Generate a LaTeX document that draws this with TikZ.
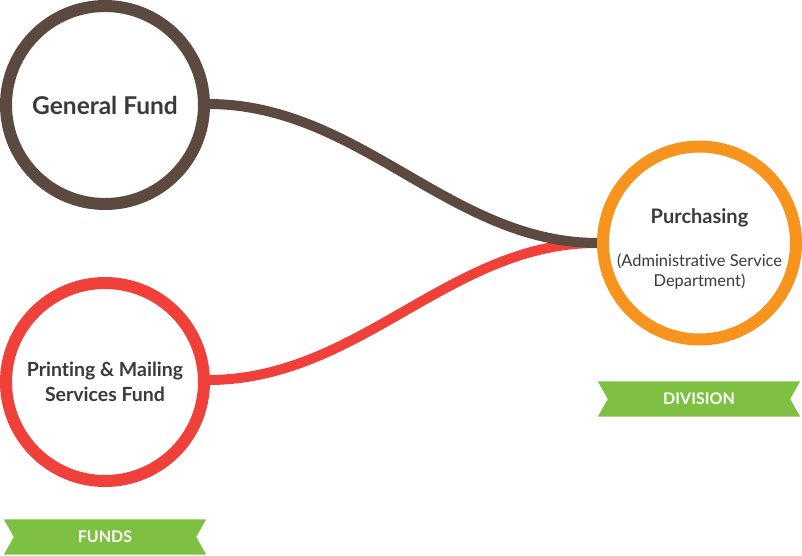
\documentclass[tikz,border=0pt]{standalone}
\usepackage{fontspec}
\setmainfont{Lato}[Ligatures=NoCommon]
\usetikzlibrary{positioning}
\definecolor{fundbrown}{RGB}{92,74,64}
\definecolor{fundred}{RGB}{239,64,58}
\definecolor{divorange}{RGB}{247,148,30}
\definecolor{bannergreen}{RGB}{126,193,66}
\definecolor{textgray}{RGB}{58,58,60}
\newcommand{\subtxt}{\mdseries\fontsize{16.4}{23}\selectfont}
\tikzset{fund node/.style={circle,draw,fill=white,line width=12pt,minimum size=198pt,inner sep=0pt,align=center,text=textgray,font=\bfseries\fontsize{19.5}{25}\selectfont},
  banner/.style={minimum width=202pt,minimum height=35pt,inner sep=0pt,text=white,font=\bfseries\fontsize{16}{16}\selectfont},
  link/.style={line width=10pt},}

\begin{document}
\begin{tikzpicture}[x=1pt, y=-1pt]
	\useasboundingbox (0,0) rectangle (802,556);
	% connectors first, circles cover them
	\coordinate (gf) at (208,104);
	\coordinate (pm) at (208,380);
	\coordinate (pu) at (598,243);
	\draw[link, fundred] (pm) .. controls (360,380) and (450,242) .. (pu);
	\draw[link, fundbrown] (gf) .. controls (360,104) and (450,243) .. (pu);

	\node[fund node, draw=fundbrown, font=\bfseries\fontsize{24.5}{25}\selectfont] (general) at (105,105) {General Fund};
	\node[fund node, draw=fundred] (printing) at (105,382) {Printing \& Mailing\\Services Fund};
	\node[fund node, draw=divorange, minimum size=193pt] (purchasing) at (699.5,243) {};
	\node[align=center, text=textgray, font=\bfseries\fontsize{20}{20}\selectfont, inner sep=0pt] (purchasing text) at ([yshift=-6pt]purchasing)
	    {Purchasing\\[23pt]\subtxt (Administrative Service\\\subtxt Department)};

	% green ribbons
	\node[banner] (division) at (699,399) {};
	\node[banner] (funds) at (105,537) {};
	\foreach \b in {division,funds} {
	    \fill[bannergreen] (\b.north west) -- (\b.north east) -- ([xshift=-10pt]\b.east) -- (\b.south east)
	        -- (\b.south west) -- ([xshift=10pt]\b.west) -- cycle;
	}
	\node[banner] at (division) {DIVISION};
	\node[banner] at (funds) {FUNDS};
\end{tikzpicture}
\end{document}
